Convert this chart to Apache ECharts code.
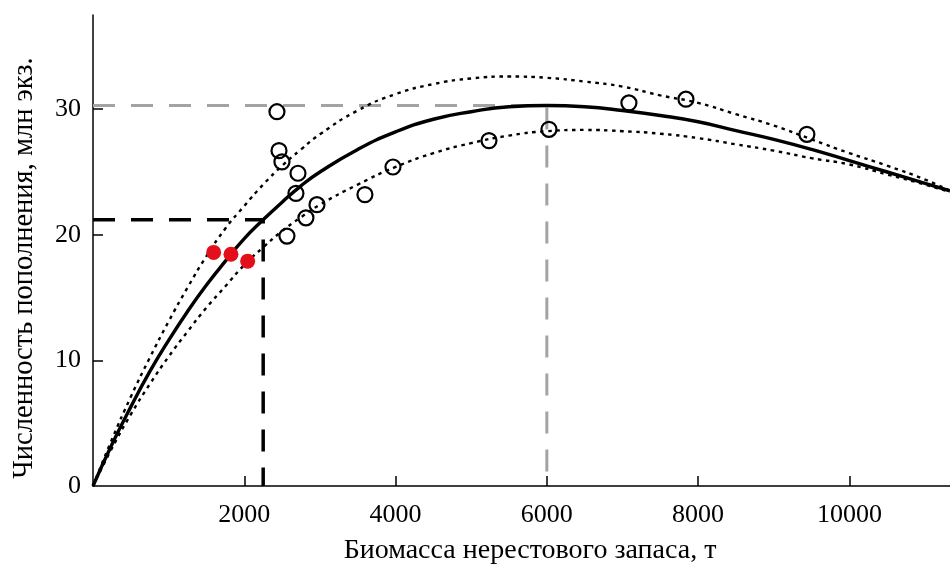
<!DOCTYPE html>
<html>
<head>
<meta charset="utf-8">
<script src="https://cdn.jsdelivr.net/npm/echarts@6/dist/echarts.min.js"></script>
<style>html,body{margin:0;padding:0;background:#fff}#c{width:950px;height:568px}</style>
</head>
<body>
<div id="c"></div>
<script>
// Spawning stock biomass grid (t) on which the curves were read
const biomass = [0,250,500,750,1000,1250,1500,1750,2000,2250,2500,2750,3000,3500,4000,4500,5000,5500,6000,6500,7000,7500,8000,8500,9000,9500,10000,10500,11000,11330];
// Fitted stock-recruitment curve (mln ind.)
const fitCurve = [0,3.3,6.3,9.1,11.6,13.9,16.0,17.9,19.7,21.2,22.6,23.9,25.0,26.8,28.2,29.2,29.8,30.2,30.3,30.2,29.9,29.5,29.0,28.3,27.6,26.8,25.9,25.0,24.1,23.5];
// Upper and lower confidence curves
const upperCurve = [0,3.7,7.1,10.2,13.1,15.8,18.3,20.5,22.3,24.0,25.5,26.8,28.0,29.9,31.2,32.0,32.45,32.6,32.5,32.2,31.8,31.1,30.5,29.6,28.7,27.6,26.5,25.5,24.4,23.5];
const lowerCurve = [0,3.0,5.7,8.1,10.3,12.3,14.2,15.9,17.6,19.0,20.3,21.4,22.4,24.0,25.4,26.5,27.3,27.9,28.25,28.35,28.25,28.05,27.7,27.2,26.7,26.1,25.6,24.8,24.0,23.4];
// Observed years (open circles)
const obsX = [2432,2459,2498,2710,2683,2815,2961,2564,3595,3966,5235,6028,7085,7839,9438];
const obsY = [29.8,26.7,25.8,24.9,23.3,21.35,22.4,19.9,23.2,25.4,27.5,28.4,30.5,30.8,28.0];
// Recent years (red dots)
const recentX = [1595,1824,2045];
const recentY = [18.6,18.45,17.9];
// Reference points: max recruitment and target biomass
const msyPoint = [6000, 30.3];
const targetPoint = [2250, 21.2];
// Axis tick labels
const xTicks = [2000,4000,6000,8000,10000];
const yTicks = [0,10,20,30];

const zip = (a,b) => a.map((v,i)=>[v,b[i]]);
const FONT = "'Liberation Serif','Times New Roman',serif";

const chart = echarts.init(document.getElementById('c'), null, {renderer:'canvas'});
chart.setOption({
  animation:false,
  backgroundColor:'#ffffff',
  grid:{left:93,right:0,top:15,bottom:82,containLabel:false},
  xAxis:{
    type:'value',min:0,max:11330,
    axisLine:{show:true,onZero:false,lineStyle:{color:'#000',width:1.5}},
    axisTick:{show:true,inside:true,length:10,customValues:xTicks,lineStyle:{color:'#000',width:1.5}},
    axisLabel:{customValues:xTicks,formatter:v=>String(v),color:'#000',fontFamily:FONT,fontSize:26,margin:16},
    splitLine:{show:false}
  },
  yAxis:{
    type:'value',min:0,max:37.5,
    axisLine:{show:true,onZero:false,lineStyle:{color:'#000',width:1.5}},
    axisTick:{show:true,inside:true,length:10,customValues:[10,20,30],lineStyle:{color:'#000',width:1.5}},
    axisLabel:{customValues:yTicks,formatter:v=>String(v),color:'#000',fontFamily:FONT,fontSize:26,margin:12},
    splitLine:{show:false}
  },
  graphic:[
    {type:'text',x:530,y:551,style:{text:'Биомасса нерестового запаса, т',font:'28px '+FONT,fill:'#000',textAlign:'center',textVerticalAlign:'middle'}},
    {type:'text',x:25,y:268,rotation:Math.PI/2,style:{text:'Численность пополнения, млн экз.',font:'28.5px '+FONT,fill:'#000',textAlign:'center',textVerticalAlign:'middle'}}
  ],
  series:[
    {type:'line',data:[[0,msyPoint[1]],msyPoint,[msyPoint[0],0]],symbol:'none',lineStyle:{color:'#a3a3a3',width:3,type:[22,16]},z:1,silent:true},
    {type:'line',data:[[0,targetPoint[1]],targetPoint,[targetPoint[0],0]],symbol:'none',lineStyle:{color:'#000',width:3.5,type:[22,16]},z:1,silent:true},
    {type:'line',data:zip(biomass,upperCurve),symbol:'none',smooth:0.5,lineStyle:{color:'#000',width:2.4,type:[3.5,4.5]},z:2},
    {type:'line',data:zip(biomass,lowerCurve),symbol:'none',smooth:0.5,lineStyle:{color:'#000',width:2.4,type:[3.5,4.5]},z:2},
    {type:'line',data:zip(biomass,fitCurve),symbol:'none',smooth:0.5,lineStyle:{color:'#000',width:3.4},z:3},
    {type:'scatter',data:zip(obsX,obsY),symbol:'circle',symbolSize:15,itemStyle:{color:'rgba(255,255,255,0)',borderColor:'#000',borderWidth:2.2,opacity:1},z:4},
    {type:'scatter',data:zip(recentX,recentY),symbol:'circle',symbolSize:15,itemStyle:{color:'#e3101c',borderWidth:0,opacity:1},z:5}
  ]
});
</script>
</body>
</html>
